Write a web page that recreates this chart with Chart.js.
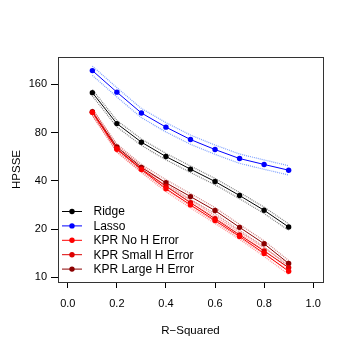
<!DOCTYPE html>
<html>
<head>
<meta charset="utf-8">
<script src="https://cdn.jsdelivr.net/npm/chart.js@4.4.1/dist/chart.umd.min.js"></script>
<style>
  html, body { margin: 0; padding: 0; background: #fff; }
  #wrap { width: 354px; height: 354px; }
</style>
</head>
<body>
<div id="wrap"><canvas id="chart" width="354" height="354"></canvas></div>
<script>
// Values (log-scaled HPSSE vs R-squared)
const rSquared = [0.1, 0.2, 0.3, 0.4, 0.5, 0.6, 0.7, 0.8, 0.9];
const ridge     = [142, 91, 69.7, 56.7, 47.3, 39.6, 32.4, 26.2, 20.6];
const lasso     = [195, 143, 106, 86.5, 72.4, 62.7, 55.1, 50.6, 46.6];
const kprNoH    = [107, 63, 47, 35.7, 28.3, 22.6, 18.0, 14.1, 10.9];
const kprSmallH = [107, 63.5, 47.5, 37, 29.2, 23.2, 18.4, 14.6, 11.5];
const kprLargeH = [108, 65, 48.5, 38.9, 31.9, 26.1, 20.5, 16.2, 12.2];

// standard errors (dotted bands)
const ridgeSE     = [6.5, 4.2, 3.2, 2.6, 2.2, 1.8, 1.45, 1.2, 0.95];
const lassoSE     = [13, 9.5, 7.0, 5.8, 4.8, 4.2, 3.7, 3.4, 3.1];
const kprNoHSE    = [4.6, 2.7, 2.0, 1.5, 1.2, 0.95, 0.76, 0.6, 0.47];
const kprSmallHSE = [4.6, 2.7, 2.0, 1.6, 1.25, 1.0, 0.8, 0.63, 0.5];
const kprLargeHSE = [4.6, 2.8, 2.1, 1.7, 1.4, 1.1, 0.88, 0.7, 0.53];

const xTicks = [0.0, 0.2, 0.4, 0.6, 0.8, 1.0];
const yTicks = [10, 20, 40, 80, 160];

const series = [
    { label: 'Ridge', values: ridge, se: ridgeSE, color: '#000000', band: 'rgba(0,0,0,0.5)' },
    { label: 'Lasso', values: lasso, se: lassoSE, color: '#0000FF', band: 'rgba(70,120,255,0.7)' },
    { label: 'KPR No H Error', values: kprNoH, se: kprNoHSE, color: '#FF0000', band: 'rgba(255,60,60,0.55)' },
    { label: 'KPR Small H Error', values: kprSmallH, se: kprSmallHSE, color: '#DD0000', band: 'rgba(235,40,40,0.55)' },
    { label: 'KPR Large H Error', values: kprLargeH, se: kprLargeHSE, color: '#8B0000', band: 'rgba(160,0,0,0.5)' }
];

const FONT = "'Liberation Sans', Arial, Helvetica, sans-serif";

const datasets = [];
series.forEach(s => {
    datasets.push({
        label: s.label,
        data: rSquared.map((x, i) => ({ x: x, y: s.values[i] })),
        borderColor: s.color,
        backgroundColor: s.color,
        borderWidth: 1,
        pointRadius: 2.7,
        pointBorderWidth: 0,
        tension: 0,
        order: 0,
        isMain: true
    });
});
series.forEach(s => {
    [1, -1].forEach(sign => {
        datasets.push({
            label: s.label + ' band',
            data: rSquared.map((x, i) => ({ x: x, y: s.values[i] + sign * s.se[i] })),
            borderColor: s.band,
            borderWidth: 1.2,
            borderDash: [1, 1],
            pointRadius: 0,
            tension: 0,
            order: 1,
            isMain: false
        });
    });
});

// box around plot + legend inside bottom-left
const boxAndLegend = {
    id: 'boxAndLegend',
    afterDatasetsDraw(chart) {
        const ctx = chart.ctx;
        const a = chart.chartArea;
        ctx.save();
        ctx.strokeStyle = '#333';
        ctx.lineWidth = 1;
        ctx.strokeRect(Math.round(a.left) + 0.5, Math.round(a.top) + 0.5,
            Math.round(a.right - a.left), Math.round(a.bottom - a.top));

        const x0 = a.left + 4;
        let y = a.bottom - 71;
        ctx.font = '12px ' + FONT;
        ctx.textBaseline = 'middle';
        chart.data.datasets.filter(d => d.isMain).forEach(d => {
            ctx.strokeStyle = d.borderColor;
            ctx.lineWidth = 1;
            ctx.beginPath();
            ctx.moveTo(x0, y + 0.5);
            ctx.lineTo(x0 + 20, y + 0.5);
            ctx.stroke();
            ctx.fillStyle = d.borderColor;
            ctx.beginPath();
            ctx.arc(x0 + 10, y + 0.5, 2.7, 0, Math.PI * 2);
            ctx.fill();
            ctx.fillStyle = '#000';
            ctx.fillText(d.label, x0 + 31.5, y + 1);
            y += 14.4;
        });
        ctx.restore();
    }
};

const ctx = document.getElementById('chart').getContext('2d');
const chart = new Chart(ctx, {
    type: 'line',
    data: { datasets: datasets },
    plugins: [boxAndLegend],
    options: {
        responsive: false,
        animation: false,
        devicePixelRatio: 1,
        layout: { padding: { top: 57, right: 31, left: 0, bottom: 0 } },
        plugins: {
            legend: { display: false },
            tooltip: { enabled: false }
        },
        scales: {
            x: {
                type: 'linear',
                min: -0.04,
                max: 1.04,
                afterBuildTicks: scale => { scale.ticks = xTicks.map(v => ({ value: v })); },
                afterFit: scale => { scale.height = 72; },
                border: { display: false },
                grid: { drawOnChartArea: false, drawTicks: true, tickLength: 6, color: '#000' },
                ticks: {
                    color: '#000',
                    font: { family: FONT, size: 11 },
                    padding: 9,
                    maxRotation: 0,
                    callback: v => v.toFixed(1)
                },
                title: {
                    display: true,
                    text: 'R\u2212Squared',
                    color: '#000',
                    font: { family: FONT, size: 11.5 },
                    padding: { top: 0, bottom: 16 }
                }
            },
            y: {
                type: 'logarithmic',
                min: 9.35,
                max: 237,
                afterBuildTicks: scale => { scale.ticks = yTicks.map(v => ({ value: v })); },
                afterFit: scale => { scale.width = 58; },
                border: { display: false },
                grid: { drawOnChartArea: false, drawTicks: true, tickLength: 7, color: '#000' },
                ticks: {
                    color: '#000',
                    font: { family: FONT, size: 11 },
                    padding: 4,
                    callback: v => String(v)
                },
                title: {
                    display: true,
                    text: 'HPSSE',
                    color: '#000',
                    font: { family: FONT, size: 11.5 },
                    padding: { top: 10, bottom: 0 }
                }
            }
        }
    }
});
</script>
</body>
</html>
